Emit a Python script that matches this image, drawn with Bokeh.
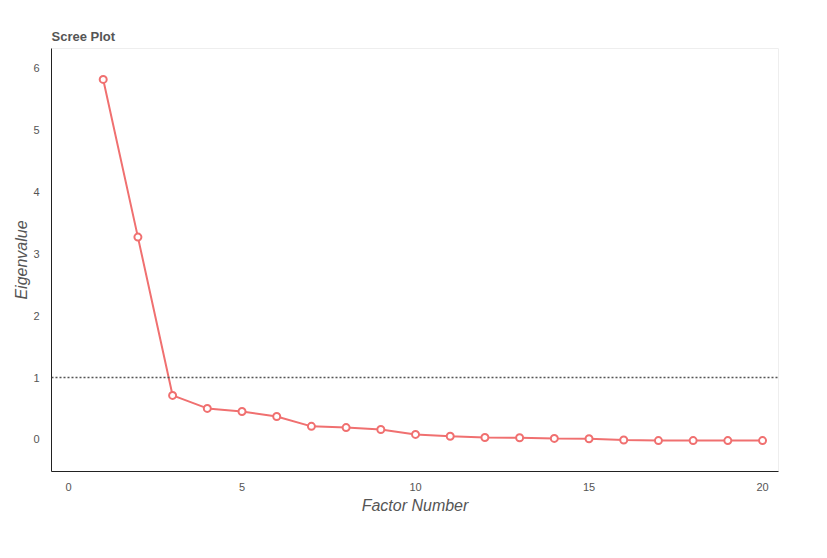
from bokeh.plotting import figure
from bokeh.models import Span, FixedTicker, Range1d
from bokeh.embed import file_html
from bokeh.resources import INLINE

factors = list(range(1, 21))
eigenvalues = [5.82, 3.27, 0.71, 0.50, 0.45, 0.37, 0.21, 0.19, 0.16, 0.08,
               0.05, 0.03, 0.025, 0.015, 0.01, -0.01, -0.02, -0.02, -0.02, -0.02]
x_ticks = [0, 5, 10, 15, 20]
y_ticks = [0, 1, 2, 3, 4, 5, 6]
cutoff = 1

FONT = "Liberation Sans"
RED = "#F07070"

p = figure(width=820, height=550, output_backend="svg", toolbar_location=None,
           x_range=Range1d(-0.49, 20.46), y_range=Range1d(-0.52, 6.32),
           min_border_left=51, min_border_right=42, min_border_top=48, min_border_bottom=79)

p.title.text = "Scree Plot"
p.title.text_font = FONT
p.title.text_font_size = "13px"
p.title.text_font_style = "bold"
p.title.text_color = "#555555"
p.title.offset = 0

p.xgrid.visible = False
p.ygrid.visible = False
p.outline_line_color = "#eeeeee"
p.outline_line_width = 1

for ax in (p.xaxis[0], p.yaxis[0]):
    ax.major_tick_line_color = None
    ax.minor_tick_line_color = None
    ax.axis_line_color = "#222222"
    ax.axis_line_width = 1
    ax.major_label_text_font = FONT
    ax.major_label_text_font_size = "11px"
    ax.major_label_text_color = "#555555"
    ax.axis_label_text_font = FONT
    ax.axis_label_text_font_size = "16px"
    ax.axis_label_text_font_style = "italic"
    ax.axis_label_text_color = "#555555"

p.xaxis.ticker = FixedTicker(ticks=x_ticks)
p.yaxis.ticker = FixedTicker(ticks=y_ticks)
p.xaxis.axis_label = "Factor Number"
p.yaxis.axis_label = "Eigenvalue"
p.xaxis.major_label_standoff = 5
p.yaxis.major_label_standoff = 6
p.xaxis.axis_label_standoff = 3
p.yaxis.axis_label_standoff = 0

p.add_layout(Span(location=cutoff, dimension="width", line_color="#555555",
                  line_dash="2 2", line_width=1.5))

p.line(factors, eigenvalues, line_color=RED, line_width=2)
p.scatter(factors, eigenvalues, marker="circle", size=7, fill_color="white",
          line_color=RED, line_width=2)

open("out.html", "w").write(file_html(p, INLINE))
